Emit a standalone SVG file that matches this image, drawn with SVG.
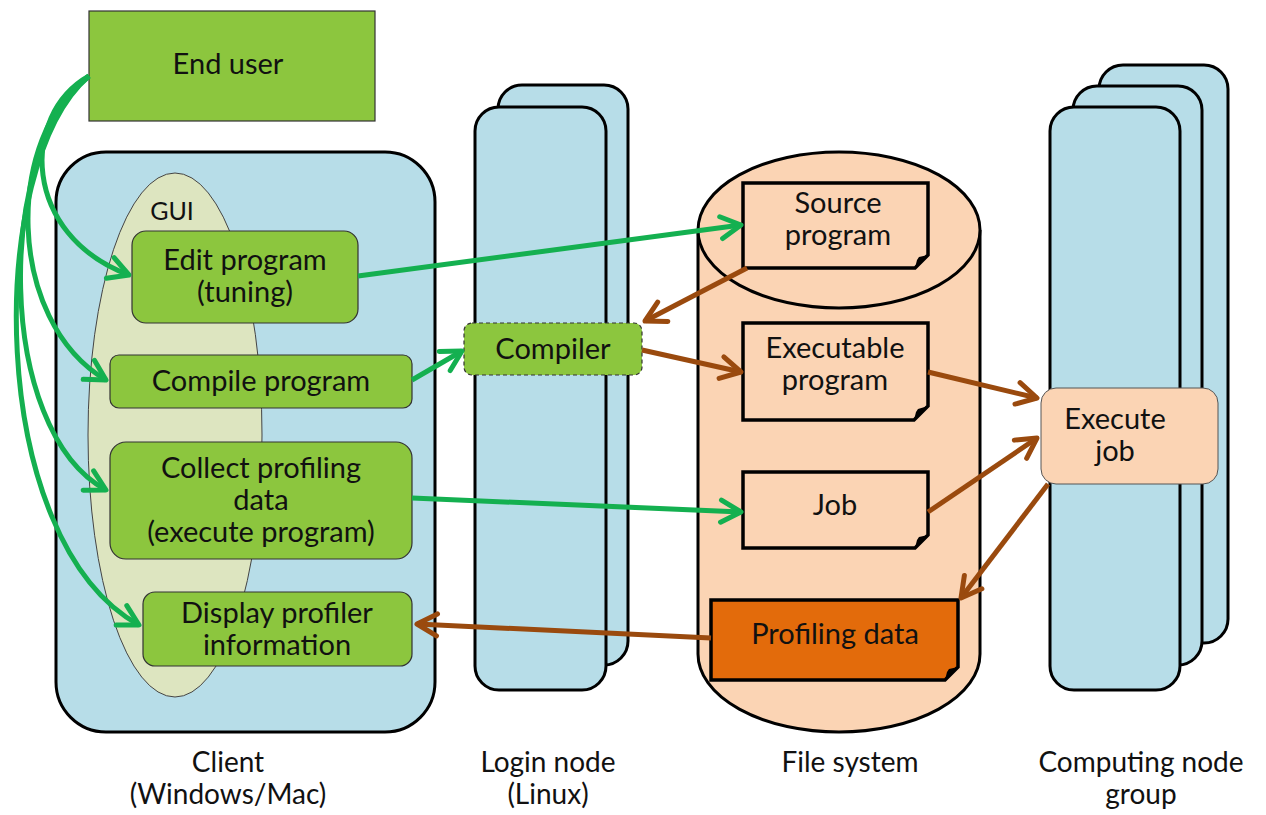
<svg xmlns="http://www.w3.org/2000/svg" width="1266" height="815" viewBox="0 0 1266 815">
<style>
text{font-family:Lato,"Liberation Sans",sans-serif;font-size:29px;fill:#111;text-anchor:middle}
.cap{font-size:28px}
.green{fill:#8cc63e;stroke:#333;stroke-width:1.2}
.blue{fill:#b7dde8;stroke:#000;stroke-width:3}
.peach{fill:#fbd4b4;stroke:#000;stroke-width:3}
.doc{fill:#fbd4b4;stroke:#000;stroke-width:3.5}
.ga{fill:none;stroke:#14b050;stroke-width:5;marker-end:url(#gh)}
.ba{fill:none;stroke:#9a4a0e;stroke-width:5;marker-end:url(#bh)}
</style>
<defs>
<marker id="gh" viewBox="0 0 30 30" refX="25" refY="15" markerWidth="30" markerHeight="30" orient="auto" markerUnits="userSpaceOnUse">
<path d="M5,4 L25,15 L5,26" fill="none" stroke="#14b050" stroke-width="5" stroke-linecap="round" stroke-linejoin="round"/>
</marker>
<marker id="bh" viewBox="0 0 30 30" refX="25" refY="15" markerWidth="30" markerHeight="30" orient="auto" markerUnits="userSpaceOnUse">
<path d="M5,4 L25,15 L5,26" fill="none" stroke="#9a4a0e" stroke-width="5" stroke-linecap="round" stroke-linejoin="round"/>
</marker>
</defs>
<rect width="1266" height="815" fill="#fff"/>

<g id="end-user">
<rect class="green" x="89" y="11" width="286" height="110"/>
<text x="228" y="74">End user</text>
</g>

<g id="client">
<rect class="blue" x="56" y="152" width="379" height="580" rx="50"/>
<text class="cap" x="228" y="772">Client</text>
<text class="cap" x="228" y="804">(Windows/Mac)</text>
</g>

<g id="gui">
<ellipse cx="175" cy="435" rx="87" ry="262" fill="#dde5c0" stroke="#444" stroke-width="1"/>
<text x="172" y="220" style="font-size:25px">GUI</text>
</g>

<g id="edit-program">
<rect class="green" x="132" y="231" width="226" height="92" rx="14"/>
<text x="245" y="270">Edit program</text>
<text x="245" y="302">(tuning)</text>
</g>

<g id="compile-program">
<rect class="green" x="110" y="355" width="302" height="53" rx="9"/>
<text x="261" y="391">Compile program</text>
</g>

<g id="collect-profiling">
<rect class="green" x="110" y="442" width="302" height="117" rx="16"/>
<text x="261" y="478">Collect profiling</text>
<text x="261" y="510">data</text>
<text x="261" y="542">(execute program)</text>
</g>

<g id="display-profiler">
<rect class="green" x="143" y="592" width="269" height="74" rx="12"/>
<text x="277" y="623">Display profiler</text>
<text x="277" y="655">information</text>
</g>

<g id="login-node">
<rect class="blue" x="498" y="85" width="130" height="580" rx="24"/>
<rect class="blue" x="475" y="107" width="131" height="583" rx="24"/>
<text class="cap" x="548" y="772">Login node</text>
<text class="cap" x="548" y="804">(Linux)</text>
</g>

<g id="compiler">
<rect x="464" y="323" width="178" height="52" rx="8" fill="#8cc63e" stroke="#333" stroke-width="1.2" stroke-dasharray="4,3"/>
<text x="553" y="359">Compiler</text>
</g>

<g id="file-system">
<path class="peach" d="M698,230 V654 A141,78 0 0 0 980,654 V230"/>
<ellipse class="peach" cx="839" cy="230" rx="141" ry="78"/>
<text class="cap" x="850" y="772">File system</text>
</g>

<g id="source-program">
<path class="doc" d="M743,183 H928 V255 L915,268 H743 Z"/>
<polygon points="915,268 928,255 919,257 917,260" fill="#000"/>
<text x="838" y="213">Source</text>
<text x="838" y="245">program</text>
</g>

<g id="executable-program">
<path class="doc" d="M743,323 H928 V406 L914,420 H743 Z"/>
<polygon points="914,420 928,406 918,409 916,412" fill="#000"/>
<text x="835" y="358">Executable</text>
<text x="835" y="390">program</text>
</g>

<g id="job">
<path class="doc" d="M743,472 H928 V535 L915,548 H743 Z"/>
<polygon points="915,548 928,535 919,537 917,540" fill="#000"/>
<text x="835" y="515">Job</text>
</g>

<g id="profiling-data">
<path d="M711,600 H958 V667 L945,680 H711 Z" fill="#e36b0b" stroke="#000" stroke-width="3.5"/>
<polygon points="945,680 958,667 949,669 947,672" fill="#000"/>
<text x="835" y="644">Profiling data</text>
</g>

<g id="computing-node-group">
<rect class="blue" x="1099" y="65" width="129" height="578" rx="24"/>
<rect class="blue" x="1073" y="86" width="129" height="579" rx="24"/>
<rect class="blue" x="1050" y="107" width="130" height="583" rx="24"/>
<text class="cap" x="1141" y="772">Computing node</text>
<text class="cap" x="1141" y="804">group</text>
</g>

<g id="execute-job">
<rect x="1041" y="388" width="177" height="96" rx="15" fill="#fbd4b4" stroke="#555" stroke-width="1"/>
<text x="1115" y="429">Execute</text>
<text x="1115" y="461">job</text>
</g>

<g id="connectors">
<path class="ga" d="M89,76 C20,115 22,235 129,275"/>
<path class="ga" d="M89,76 C5,135 5,320 106,380"/>
<path class="ga" d="M89,76 C-5,150 -5,430 106,490"/>
<path class="ga" d="M89,76 C-15,165 -15,540 139,625"/>
<path class="ga" d="M358,276 L741,225"/>
<path class="ga" d="M412,380 L462,351"/>
<path class="ga" d="M412,498 L741,512"/>
<path class="ba" d="M747,268 L645,321"/>
<path class="ba" d="M642,350 L741,372"/>
<path class="ba" d="M928,372 L1037,398"/>
<path class="ba" d="M928,512 L1037,438"/>
<path class="ba" d="M1048,484 L961,598"/>
<path class="ba" d="M711,638 L417,624"/>
</g>
</svg>
